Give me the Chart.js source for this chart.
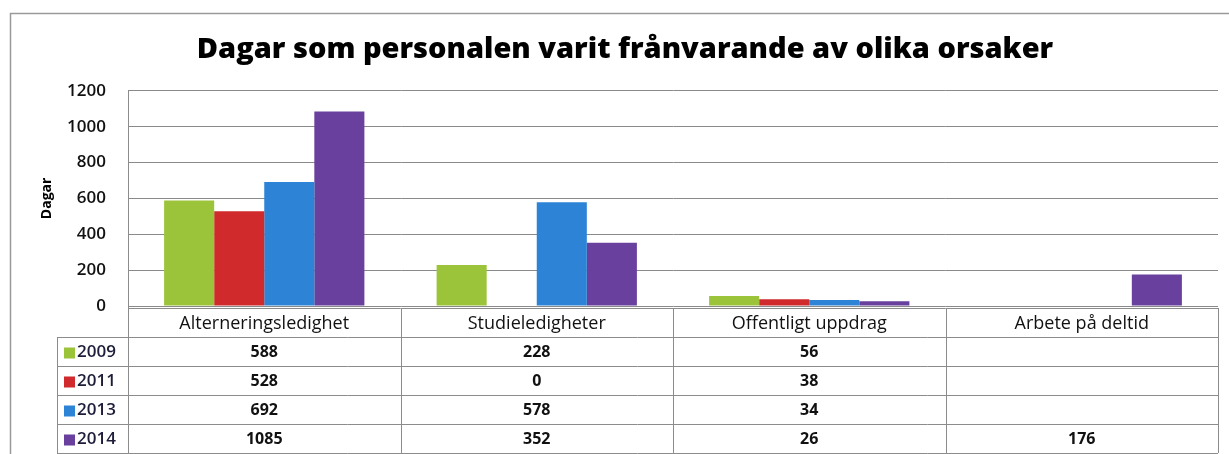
<!DOCTYPE html>
<html>
<head>
<meta charset="utf-8">
<script src="https://cdn.jsdelivr.net/npm/chart.js@4.4.1/dist/chart.umd.min.js"></script>
<style>
  html, body { margin: 0; padding: 0; background: #fff; }
  #wrap { width: 1229px; height: 454px; position: relative; }
</style>
</head>
<body>
<div id="wrap"><canvas id="mycanvas" width="1229" height="454"></canvas></div>
<script>
// data
var categories = ['Alterneringsledighet', 'Studieledigheter', 'Offentligt uppdrag', 'Arbete på deltid'];
var years = ['2009', '2011', '2013', '2014'];
var days2009 = [588, 228, 56, null];
var days2011 = [528, 0, 38, null];
var days2013 = [692, 578, 34, null];
var days2014 = [1085, 352, 26, 176];
var yMax = 1200;
var yStep = 200;

var colors = ['#9cc43a', '#d02a2c', '#2d83d6', '#69409e'];
var series = [days2009, days2011, days2013, days2014];

var FONT = '"Open Sans", Lato, sans-serif';

// frame around the whole chart + white bg
var framePlugin = {
	id: 'frame',
	beforeDraw: function(chart){
		var ctx = chart.ctx;
		ctx.save();
		ctx.fillStyle = '#fff';
		ctx.fillRect(0, 0, chart.width, chart.height);
		ctx.strokeStyle = '#9a9a9a';
		ctx.lineWidth = 1.5;
		ctx.beginPath();
		ctx.moveTo(10.5, chart.height + 2);
		ctx.lineTo(10.5, 13.5);
		ctx.lineTo(chart.width + 2, 13.5);
		ctx.stroke();
		ctx.restore();
	}
};

// the data table under the plot
var tablePlugin = {
	id: 'datatable',
	afterDraw: function(chart){
		var ctx = chart.ctx;
		var area = chart.chartArea;
		var n = categories.length;
		var colW = (area.right - area.left) / n;
		var top = area.bottom + 2;
		var rowH = 29;
		var legendLeft = 57;
		var bottom = top + rowH * (years.length + 1);

		ctx.save();
		ctx.strokeStyle = '#8c8c8c';
		ctx.lineWidth = 1;

		// horizontal lines
		ctx.beginPath();
		ctx.moveTo(area.left, top + 0.5);
		ctx.lineTo(area.right, top + 0.5);
		for (var r = 1; r <= years.length + 1; r++) {
			var y = Math.round(top + r * rowH) + 0.5;
			ctx.moveTo(legendLeft, y);
			ctx.lineTo(area.right, y);
		}
		// vertical lines
		ctx.moveTo(area.left + 0.5, area.top);
		ctx.lineTo(area.left + 0.5, bottom);
		ctx.moveTo(legendLeft + 0.5, top + rowH);
		ctx.lineTo(legendLeft + 0.5, bottom);
		for (var c = 1; c <= n; c++) {
			var x = Math.round(area.left + c * colW) + 0.5;
			ctx.moveTo(x, top);
			ctx.lineTo(x, bottom);
		}
		ctx.stroke();

		ctx.textBaseline = 'middle';
		// header
		ctx.textAlign = 'center';
		ctx.fillStyle = '#111';
		ctx.font = '18px ' + FONT;
		for (var i = 0; i < n; i++) {
			ctx.fillText(categories[i], area.left + (i + 0.5) * colW, top + rowH / 2 + 1);
		}
		// rows
		for (var s = 0; s < years.length; s++) {
			var cy = top + (s + 1.5) * rowH + 1;
			ctx.fillStyle = colors[s];
			ctx.fillRect(legendLeft + 7, cy - 5, 11, 11);
			ctx.textAlign = 'left';
			ctx.fillStyle = '#1d1d3a';
			ctx.font = '600 17px ' + FONT;
			ctx.fillText(years[s], legendLeft + 20, cy);
			ctx.textAlign = 'center';
			ctx.fillStyle = '#111';
			ctx.font = 'bold 16px ' + FONT;
			for (var k = 0; k < n; k++) {
				var v = series[s][k];
				if (v === null) continue;
				ctx.fillText(String(v), area.left + (k + 0.5) * colW, cy);
			}
		}
		ctx.restore();
	}
};

var datasets = [];
for (var d = 0; d < years.length; d++) {
	datasets.push({
		label: years[d],
		data: series[d],
		backgroundColor: colors[d],
		borderWidth: 0,
		categoryPercentage: 0.735,
		barPercentage: 1.0
	});
}

var ctx = document.getElementById('mycanvas');
var barGraph = new Chart(ctx, {
	type: 'bar',
	data: { labels: categories, datasets: datasets },
	plugins: [framePlugin, tablePlugin],
	options: {
		responsive: false,
		animation: false,
		layout: { padding: { left: 32, right: 11, top: 0, bottom: 148 } },
		plugins: {
			legend: { display: false },
			tooltip: { enabled: false },
			title: {
				display: true,
				text: 'Dagar som personalen varit frånvarande av olika orsaker',
				color: '#000',
				font: { family: FONT, size: 29, weight: '800' },
				padding: { top: 32, bottom: 24 }
			}
		},
		scales: {
			x: { display: false },
			y: {
				min: 0,
				max: yMax,
				afterFit: function(scale){ scale.width = 96; },
				ticks: {
					stepSize: yStep,
					padding: 22,
					color: '#111',
					font: { family: FONT, size: 17, weight: '600' },
					callback: function(value){ return String(value); }
				},
				grid: { color: '#8a8a8a', drawTicks: false },
				border: { display: true, color: '#8a8a8a' },
				title: {
					display: true,
					text: 'Dagar',
					color: '#000',
					font: { family: FONT, size: 14, weight: 'bold' },
					padding: { top: 7, bottom: 0 }
				}
			}
		}
	}
});
</script>
</body>
</html>
